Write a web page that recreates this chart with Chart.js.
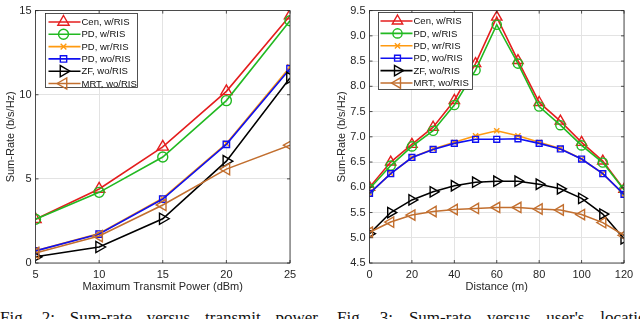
<!DOCTYPE html>
<html>
<head>
<meta charset="utf-8">
<script src="https://cdn.jsdelivr.net/npm/chart.js@4.4.1/dist/chart.umd.min.js"></script>
<style>
    html, body { margin: 0; padding: 0; background: #fff; }
    body { width: 640px; height: 319px; overflow: hidden; position: relative; }
    .panel { position: absolute; top: 0; width: 320px; height: 300px; }
    .caption {
        position: absolute; top: 309px; height: 17px; line-height: 17px;
        font-family: "Liberation Serif", "DejaVu Serif", serif; font-size: 17px;
        color: #111; white-space: nowrap; text-align: justify; text-align-last: justify;
    }
</style>
</head>
<body>
<div class="panel" style="left:0"><canvas id="powerChart" width="320" height="300"></canvas></div>
<div class="panel" style="left:320px"><canvas id="distChart" width="320" height="300"></canvas></div>
<div class="caption" style="left:0; width:318px">Fig. 2: Sum-rate versus transmit power</div>
<div class="caption" style="left:337px; width:318px">Fig. 3: Sum-rate versus user's location</div>

<script>
// series names
const seriesNames = ["Cen, w/RIS", "PD, w/RIS", "PD, wr/RIS", "PD, wo/RIS", "ZF, wo/RIS", "MRT, wo/RIS"];

// Fig. 2 - sum-rate vs max transmit power
const powerDbm = [5, 10, 15, 20, 25];
const powerCen = [2.6, 4.4, 6.9, 10.2, 14.7];
const powerPdW = [2.6, 4.2, 6.3, 9.65, 14.4];
const powerPdWr = [0.72, 1.75, 3.85, 7.1, 11.65];
const powerPdWo = [0.72, 1.72, 3.8, 7.05, 11.55];
const powerZf = [0.37, 0.95, 2.63, 6.05, 11.0];
const powerMrt = [0.6, 1.6, 3.45, 5.58, 7.0];
const powerYTicks = [0, 5, 10, 15];

// Fig. 3 - sum-rate vs distance
const distM = [0, 10, 20, 30, 40, 50, 60, 70, 80, 90, 100, 110, 120];
const distCen = [6.0, 6.5, 6.85, 7.19, 7.72, 8.45, 9.37, 8.51, 7.68, 7.31, 6.89, 6.52, 5.96];
const distPdW = [5.97, 6.43, 6.81, 7.12, 7.63, 8.32, 9.22, 8.45, 7.6, 7.23, 6.83, 6.49, 5.95];
const distPdWr = [5.88, 6.27, 6.59, 6.76, 6.89, 7.02, 7.12, 7.02, 6.89, 6.77, 6.56, 6.27, 5.86];
const distPdWo = [5.88, 6.27, 6.59, 6.75, 6.87, 6.95, 6.95, 6.96, 6.87, 6.76, 6.56, 6.27, 5.86];
const distZf = [5.08, 5.5, 5.75, 5.91, 6.03, 6.1, 6.12, 6.12, 6.06, 5.97, 5.78, 5.47, 4.98];
const distMrt = [5.11, 5.31, 5.45, 5.52, 5.56, 5.58, 5.6, 5.6, 5.57, 5.55, 5.46, 5.3, 5.05];

const colors = ["#e41e1e", "#22b922", "#ff9a10", "#1010f0", "#000000", "#c26f2f"];
const styles = [
    { pointStyle: "triangle", rot: 0, r: 6.5 },
    { pointStyle: "circle", rot: 0, r: 5 },
    { pointStyle: "crossRot", rot: 0, r: 4 },
    { pointStyle: "rect", rot: 0, r: 4.5 },
    { pointStyle: "triangle", rot: 90, r: 6.5 },
    { pointStyle: "triangle", rot: -90, r: 6.5 }
];

const FONT = "'Liberation Sans', Arial, sans-serif";
const AXIS = "#262626";

function makeDatasets(xs, seriesList, scale) {
    return seriesList.map((ys, i) => ({
        label: seriesNames[i],
        data: xs.map((x, j) => ({ x: x, y: ys[j] })),
        borderColor: colors[i],
        backgroundColor: "rgba(0,0,0,0)",
        borderWidth: 1.6,
        pointStyle: styles[i].pointStyle,
        pointRotation: styles[i].rot,
        pointRadius: styles[i].r * scale,
        pointBorderWidth: 1.4,
        pointBackgroundColor: "rgba(0,0,0,0)",
        pointBorderColor: colors[i],
        tension: 0,
        order: seriesList.length - i
    }));
}

// box + inward ticks on all sides, like the source figure
const frameBox = {
    id: "frameBox",
    afterDraw(chart) {
        const { ctx, chartArea: a, scales } = chart;
        ctx.save();
        ctx.strokeStyle = AXIS;
        ctx.lineWidth = 0.8;
        ctx.beginPath();
        scales.x.ticks.forEach(t => {
            const px = scales.x.getPixelForValue(t.value);
            ctx.moveTo(px, a.bottom); ctx.lineTo(px, a.bottom - 3);
            ctx.moveTo(px, a.top); ctx.lineTo(px, a.top + 3);
        });
        scales.y.ticks.forEach(t => {
            const py = scales.y.getPixelForValue(t.value);
            ctx.moveTo(a.left, py); ctx.lineTo(a.left + 3, py);
            ctx.moveTo(a.right, py); ctx.lineTo(a.right - 3, py);
        });
        ctx.stroke();
        ctx.strokeRect(a.left, a.top, a.right - a.left, a.bottom - a.top);
        ctx.restore();
    }
};

// legend with line + marker, inside the plot area
const boxLegend = {
    id: "boxLegend",
    afterDraw(chart, args, o) {
        const ctx = chart.ctx;
        ctx.save();
        ctx.fillStyle = "#fff";
        ctx.fillRect(o.x, o.y, o.w, o.h);
        ctx.strokeStyle = AXIS;
        ctx.lineWidth = 0.8;
        ctx.strokeRect(o.x, o.y, o.w, o.h);
        ctx.font = o.fontSize + "px " + FONT;
        ctx.textBaseline = "middle";
        chart.data.datasets.forEach((ds, i) => {
            const y = o.y + o.first + i * o.step;
            ctx.strokeStyle = ds.borderColor;
            ctx.lineWidth = ds.borderWidth;
            ctx.beginPath();
            ctx.moveTo(o.x + o.l0, y);
            ctx.lineTo(o.x + o.l1, y);
            ctx.stroke();
            ctx.fillStyle = "rgba(0,0,0,0)";
            ctx.lineWidth = ds.pointBorderWidth;
            Chart.helpers.drawPoint(ctx, {
                pointStyle: ds.pointStyle,
                rotation: ds.pointRotation,
                radius: ds.pointRadius,
                borderWidth: ds.pointBorderWidth
            }, o.x + o.mx, y);
            ctx.fillStyle = "#111";
            ctx.fillText(ds.label, o.x + o.tx, y + 0.5);
        });
        ctx.restore();
    }
};

function makeOptions(cfg) {
    return {
        responsive: false,
        animation: false,
        layout: { padding: { top: 5, right: cfg.padRight, left: 0, bottom: 0 } },
        plugins: {
            legend: { display: false },
            tooltip: { enabled: false },
            boxLegend: cfg.legend
        },
        scales: {
            x: {
                type: "linear",
                min: cfg.xMin, max: cfg.xMax,
                afterFit: s => { s.height = 37; },
                grid: { color: "#e3e3e3", drawTicks: false },
                border: { display: false },
                ticks: {
                    stepSize: cfg.xStep, padding: 5, color: AXIS,
                    font: { family: FONT, size: 11 }
                },
                title: {
                    display: true, text: cfg.xTitle, color: AXIS,
                    font: { family: FONT, size: 11 }, padding: { top: 0, bottom: 6 }
                }
            },
            y: {
                type: "linear",
                min: cfg.yMin, max: cfg.yMax,
                afterFit: s => { s.width = cfg.yWidth; },
                afterBuildTicks: cfg.yTicks ? (s => { s.ticks = cfg.yTicks.map(v => ({ value: v })); }) : undefined,
                grid: { color: "#e3e3e3", drawTicks: false },
                border: { display: false },
                ticks: {
                    stepSize: cfg.yStep, padding: 4, color: AXIS,
                    font: { family: FONT, size: 11 }
                },
                title: {
                    display: true, text: "Sum-Rate (b/s/Hz)", color: AXIS,
                    font: { family: FONT, size: 11 }, padding: { top: cfg.yTitlePad, bottom: 0 }
                }
            }
        }
    };
}

new Chart(document.getElementById("powerChart"), {
    type: "line",
    data: {
        datasets: makeDatasets(powerDbm,
            [powerCen, powerPdW, powerPdWr, powerPdWo, powerZf, powerMrt], 1)
    },
    options: makeOptions({
        padRight: 30, yWidth: 35.5, yTitlePad: 4,
        xMin: 5, xMax: 25, xStep: 5, yMin: 0, yMax: 15, yStep: 5, yTicks: powerYTicks,
        xTitle: "Maximum Transmit Power (dBm)",
        legend: { x: 45.5, y: 13.5, w: 92, h: 74, first: 8.5, step: 12.3,
                  l0: 3, l1: 35, mx: 18, tx: 36, fontSize: 9.5 }
    }),
    plugins: [frameBox, boxLegend]
});

new Chart(document.getElementById("distChart"), {
    type: "line",
    data: {
        datasets: makeDatasets(distM,
            [distCen, distPdW, distPdWr, distPdWo, distZf, distMrt], 0.92)
    },
    options: makeOptions({
        padRight: 16, yWidth: 49.5, yTitlePad: 15,
        xMin: 0, xMax: 120, xStep: 20, yMin: 4.5, yMax: 9.5, yStep: 0.5,
        xTitle: "Distance (m)",
        legend: { x: 58.5, y: 12.5, w: 94, h: 77, first: 8.5, step: 12.4,
                  l0: 2, l1: 34, mx: 19, tx: 35, fontSize: 9.5 }
    }),
    plugins: [frameBox, boxLegend]
});
</script>
</body>
</html>
